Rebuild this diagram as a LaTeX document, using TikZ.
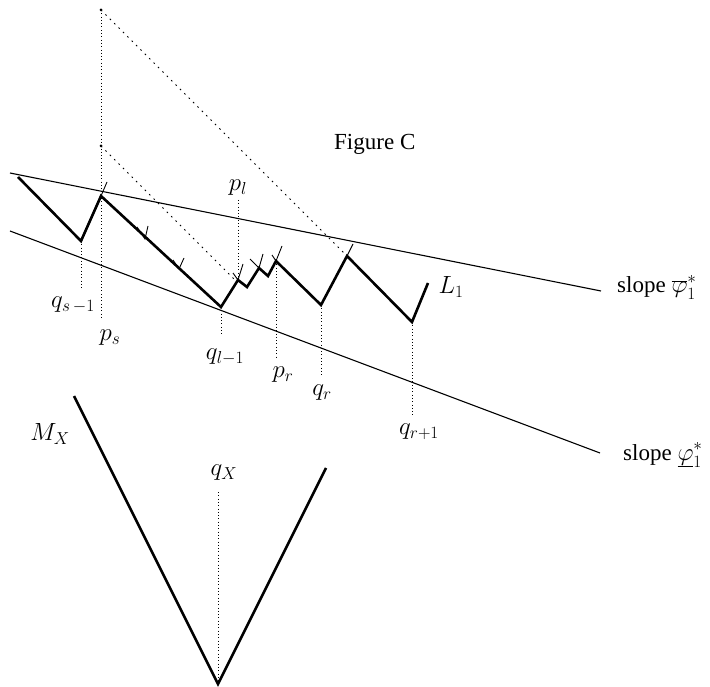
\documentclass[tikz,border=0pt]{standalone}
\usepackage{fontspec}
\setmainfont{Liberation Serif}
\begin{document}
\begin{tikzpicture}[x=1pt,y=-1pt,
  thickz/.style={line width=2.6pt,line join=miter},
  thinl/.style={line width=1.1pt},
  tickl/.style={line width=0.9pt},
  vdot/.style={line width=0.8pt,dash pattern=on 0.9pt off 2.4pt},
  ddot/.style={line width=1.0pt,dash pattern=on 1.6pt off 4.6pt},
  lbl/.style={inner sep=0pt,font=\fontsize{23}{28}\selectfont}]
\useasboundingbox (0,0) rectangle (710,687);
% coordinates of L1
\coordinate (a0) at (18,177);
\coordinate (qsm) at (81,241);
\coordinate (ps) at (101,196);
\coordinate (ql) at (221,307);
\coordinate (v1) at (238,280);
\coordinate (v2) at (247,287);
\coordinate (v3) at (259,268);
\coordinate (v4) at (268,276);
\coordinate (pr) at (276,261);
\coordinate (qr) at (321,305);
\coordinate (v5) at (347,256);
\coordinate (qr1) at (412,322);
\coordinate (a1) at (428,283);
% boundary lines
\coordinate (u0) at (10,173);
\coordinate (u1) at (601,291);
\coordinate (w0) at (10,231);
\coordinate (w1) at (600,453);
\draw[thinl] (u0) -- (u1);
\draw[thinl] (w0) -- (w1);
% L1 zigzag
\draw[thickz] (a0) -- (qsm) -- (ps) -- (ql) -- (v1) -- (v2) -- (v3) -- (v4) -- (pr) -- (qr) -- (v5) -- (qr1) -- (a1);
% small ticks
\draw[tickl] (ps) -- (107,182);
\draw[tickl] (137,227) -- (145,239) -- (148,226);
\draw[tickl] (173,260) -- (179,269) -- (184,258);
\draw[tickl] (233,273) -- (v1) -- (243,264);
\draw[tickl] (250,259) -- (v3) -- (263,254);
\draw[tickl] (272,255) -- (pr) -- (282,246);
\draw[tickl] (v5) -- (353,244);
% top dots and dotted projections
\coordinate (t0) at (101,10);
\coordinate (t1) at (101,146);
\fill (t0) circle (1.5);
\fill (t1) circle (1.5);
\draw[vdot] (t0) -- (101,320);
\draw[ddot] (t0) -- (v5);
\draw[ddot] (t1) -- (236,281);
% labels
\node[lbl,anchor=base west] (fig) at (334,150) {Figure C};
\node[lbl] (lqsm) at (73,305) {$q_{s\,-1}$};
\node[lbl] (lps) at (110,338) {$p_s$};
\node[lbl] (lpl) at (238,188) {$p_l$};
\node[lbl] (lql) at (225,357) {$q_{l-1}$};
\node[lbl] (lpr) at (283,375) {$p_r$};
\node[lbl] (lqr) at (322,393) {$q_r$};
\node[lbl] (lqr1) at (419,432) {$q_{r+1}$};
\node[lbl] (lL) at (451,287) {$L_1$};
\node[lbl,anchor=base west] (s1) at (617,293) {slope $\overline{\varphi}_1^*$};
\node[lbl,anchor=base west] (s2) at (623,460) {slope $\underline{\varphi}_1^*$};
% vertical dotted drop lines
\draw[vdot] (qsm) -- (81,290);
\draw[vdot] (238,200) -- (v1);
\draw[vdot] (ql) -- (221,335);
\draw[vdot] (pr) -- (276,357);
\draw[vdot] (qr) -- (321,375);
\draw[vdot] (qr1) -- (412,415);
% M_X
\coordinate (m0) at (74,396);
\coordinate (qX) at (218,684);
\coordinate (m1) at (326,468);
\draw[thickz] (m0) -- (qX) -- (m1);
\draw[vdot] (218,492) -- (qX);
\node[lbl] (lMX) at (50,434) {$M_X$};
\node[lbl] (lqX) at (224,473) {$q_X$};
\end{tikzpicture}
\end{document}
